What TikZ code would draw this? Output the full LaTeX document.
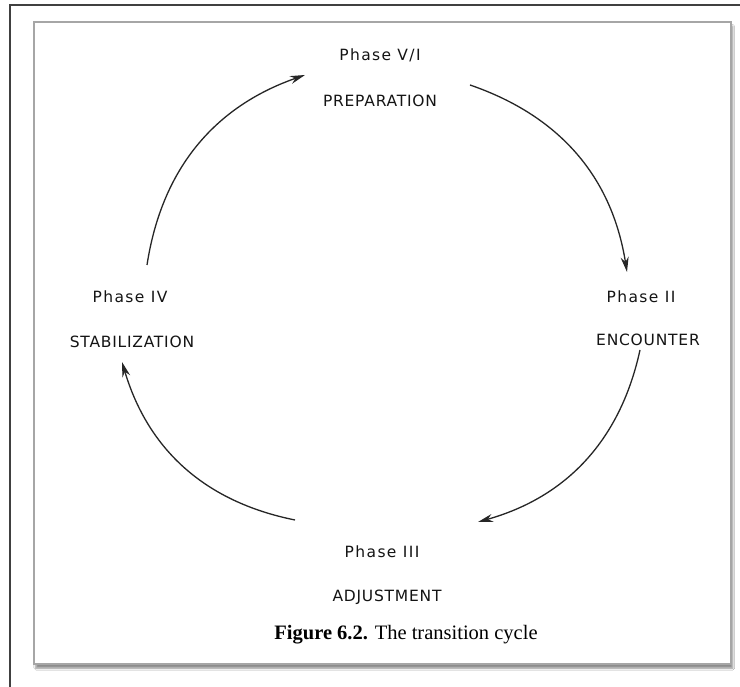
\documentclass[tikz,border=0pt]{standalone}
\usepackage{fontspec}
\setmainfont{Liberation Serif}
\newfontfamily\lblfont[LetterSpace=5]{DejaVu Sans}
\newfontfamily\phfont[LetterSpace=9]{DejaVu Sans}
\usetikzlibrary{arrows.meta,shadows.blur}
\begin{document}
\begin{tikzpicture}[x=1pt,y=1pt,
  phase/.style={font=\phfont\fontsize{15.5}{18}\selectfont, text=black!92, inner sep=0pt},
  lbl/.style={font=\lblfont\fontsize{15.5}{18}\selectfont, text=black!92, inner sep=0pt},
  cyc/.style={line width=1.3pt, draw=black!85, -{Stealth[length=15pt,width=8pt]}, bend left=31},
  frame/.style={line width=1.4pt, draw=black!75},
  panel/.style={draw=black!35, line width=1.6pt, fill=white,
     blur shadow={shadow xshift=2pt, shadow yshift=-4pt, shadow blur steps=6, shadow opacity=45}}]
\useasboundingbox (0,0) rectangle (740,687);
\fill[white] (0,0) rectangle (740,687);
\draw[frame] (740,682) -- (10,682) -- (10,0);
\node[panel, minimum width=697pt, minimum height=642pt, anchor=south west] (box) at (33,22) {};

\node[phase] (p1) at (380,632) {Phase V/I};
\node[lbl] (l1) at (380,586) {PREPARATION};
\node[phase] (p2) at (641,390) {Phase II};
\node[lbl] (l2) at (648,347) {ENCOUNTER};
\node[phase] (p3) at (382,135) {Phase III};
\node[lbl] (l3) at (387,90) {ADJUSTMENT};
\node[phase] (p4) at (130,390) {Phase IV};
\node[lbl] (l4) at (132,345) {STABILIZATION};
\node[inner sep=0pt, font=\fontsize{20.5}{24}\selectfont] (cap) at (406,52) {\textbf{Figure 6.2.} The transition cycle};

\coordinate (a1s) at (147,422);
\coordinate (a1e) at (305,612);
\coordinate (a2s) at (470,602);
\coordinate (a2e) at (627,415);
\coordinate (a3s) at (640,337);
\coordinate (a3e) at (478,165);
\coordinate (a4s) at (295,167);
\coordinate (a4e) at (122,325);

\draw[cyc] (a1s) to (a1e);
\draw[cyc] (a2s) to (a2e);
\draw[cyc] (a3s) to (a3e);
\draw[cyc] (a4s) to (a4e);
\end{tikzpicture}
\end{document}
